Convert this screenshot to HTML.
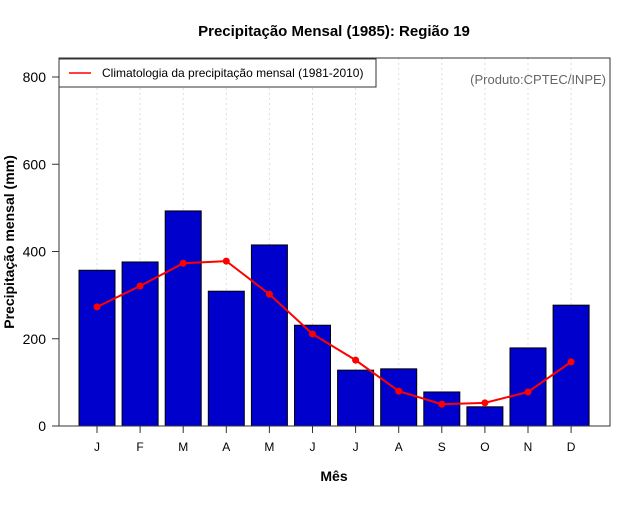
<!DOCTYPE html>
<html><head><meta charset="utf-8"><style>
body{margin:0;background:#fff;}
svg text{font-family:"Liberation Sans",sans-serif;}
</style></head><body>
<svg id="chart" width="640" height="500" xmlns="http://www.w3.org/2000/svg">
<rect width="640" height="500" fill="#fff"/>
<text x="334" y="36" text-anchor="middle" font-size="15" font-weight="bold">Precipitação Mensal (1985): Região 19</text>
<g id="grid"></g>
<g id="bars"></g>
<g id="line"></g>
<g id="axes"></g>
<rect x="59" y="58" width="551" height="368" fill="none" stroke="#333" stroke-width="1"/>
<g>
<rect x="59" y="59" width="317" height="28" fill="#fff" stroke="#333"/>
<line x1="69" y1="73" x2="91" y2="73" stroke="red" stroke-width="1.5"/>
<text x="102" y="77" font-size="12">Climatologia da precipitação mensal (1981-2010)</text>
</g>
<text x="606" y="84" text-anchor="end" font-size="13" fill="#666">(Produto:CPTEC/INPE)</text>
<text x="334" y="481" text-anchor="middle" font-size="14" font-weight="bold">Mês</text>
<text transform="translate(14,242) rotate(-90)" text-anchor="middle" font-size="14" font-weight="bold">Precipitação mensal (mm)</text>
</svg>
<script>
const months=["J","F","M","A","M","J","J","A","S","O","N","D"];
const precip=[357,376,493,309,415,231,128,131,78,44,179,277];
const climatology=[273,321,373,378,302,211,151,80,50,53,78,147];
const yTicks=[0,200,400,600,800];
const NS="http://www.w3.org/2000/svg";
const y=v=>426-v*(349/800);
const x=i=>97+i*43.1;
function mk(tag,attrs,parent){const e=document.createElementNS(NS,tag);for(const k in attrs)e.setAttribute(k,attrs[k]);document.getElementById(parent).appendChild(e);return e;}
months.forEach((m,i)=>{
  const g=mk("line",{x1:x(i),x2:x(i),y1:58,y2:426,stroke:"#ddd","stroke-dasharray":"2,3"},"grid");
  
  
  const b=mk("rect",{x:x(i)-18,y:y(precip[i]),width:36,height:426-y(precip[i]),fill:"#0000cc",stroke:"#000","stroke-width":1},"bars");
  
  
  const t=mk("line",{x1:x(i),x2:x(i),y1:426,y2:433,stroke:"#333"},"axes");
  
  
  const l=mk("text",{x:x(i),y:451,"text-anchor":"middle","font-size":12},"axes");
  l.textContent=m;
  
  
});
const pl=mk("polyline",{points:climatology.map((v,i)=>x(i)+","+y(v)).join(" "),fill:"none",stroke:"red","stroke-width":2},"line");


climatology.forEach((v,i)=>{
  const c=mk("circle",{cx:x(i),cy:y(v),r:3.5,fill:"red"},"line");
  
  
});
yTicks.forEach(v=>{
  const t=mk("line",{x1:52,x2:59,y1:y(v),y2:y(v),stroke:"#333"},"axes");
  
  
  const l=mk("text",{x:46,y:y(v)+5,"text-anchor":"end","font-size":14},"axes");
  l.textContent=v;
  
  
});
</script>
</body></html>
